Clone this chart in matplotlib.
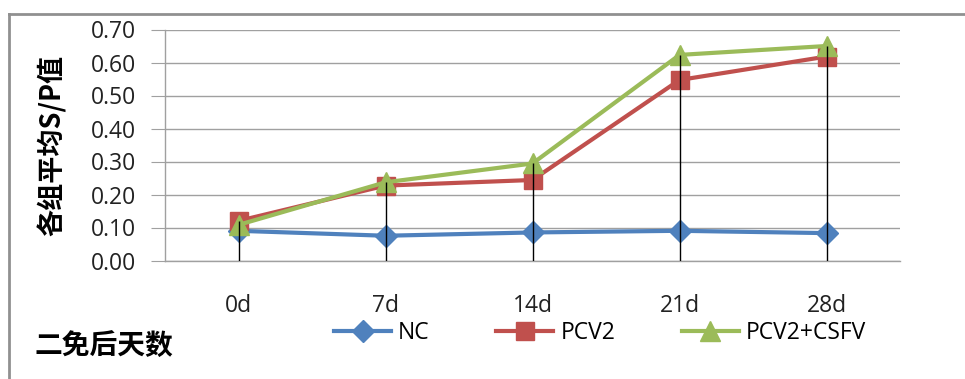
import matplotlib
matplotlib.use('Agg')
import matplotlib.pyplot as plt
from matplotlib.lines import Line2D

# data
days = ['0d', '7d', '14d', '21d', '28d']
nc = [0.09, 0.075, 0.085, 0.09, 0.083]
pcv2 = [0.12, 0.227, 0.244, 0.547, 0.618]
pcv2_csfv = [0.108, 0.237, 0.294, 0.623, 0.65]

plt.rcParams['font.family'] = ['Open Sans', 'DejaVu Sans']
cjk = ['Noto Sans CJK SC', 'DejaVu Sans']

W, H = 965, 379
fig = plt.figure(figsize=(W / 100, H / 100), dpi=100)
ax = fig.add_axes([165 / W, 1 - 260.5 / H, 735 / W, 231 / H])

x = list(range(len(days)))
ax.plot(x, nc, color='#4F81BD', lw=3, marker='D', ms=11, label='NC', zorder=3)
ax.plot(x, pcv2, color='#C0504D', lw=3, marker='s', ms=13, label='PCV2', zorder=4)
ax.plot(x, pcv2_csfv, color='#9BBB59', lw=3, marker='^', ms=14, label='PCV2+CSFV', zorder=5)

# drop lines from the highest point to the axis
tops = [max(a, b, c) for a, b, c in zip(nc, pcv2, pcv2_csfv)]
ax.vlines(x, 0, tops, color='black', lw=1, zorder=6)

ax.set_xlim(-0.5, 4.5)
ax.set_ylim(0, 0.7)
ax.set_yticks([i / 10 for i in range(8)])
ax.set_yticklabels([f'{i / 10:.2f}' for i in range(8)])
ax.set_xticks(x)
ax.set_xticklabels(days)
ax.tick_params(axis='y', length=10, color='#A0A0A0', pad=11, labelsize=16.5, labelcolor='#222222')
ax.tick_params(axis='x', length=0, pad=24, labelsize=16.5, labelcolor='#222222')
ax.grid(axis='y', color='#A0A0A0', lw=1)
ax.set_axisbelow(True)
for s in ['top', 'right']:
    ax.spines[s].set_visible(False)
for s in ['left', 'bottom']:
    ax.spines[s].set_color('#A0A0A0')
    ax.spines[s].set_linewidth(1)

fig.text(52 / W, 1 - 145 / H, '各组平均S/P值', rotation=90, ha='center', va='center',
         fontsize=19.5, fontweight='bold', family=cjk)
fig.text(35 / W, 1 - 347 / H, '二免后天数', ha='left', va='center',
         fontsize=20, fontweight='bold', family=cjk)

fig.legend(loc='center', bbox_to_anchor=(600 / W, 1 - 333 / H), ncol=3, frameon=False,
           fontsize=16.5, handlelength=2.5, handletextpad=0.3, columnspacing=2.9,
           borderaxespad=0, borderpad=0)

# outer chart border (right and bottom cut off)
fig.add_artist(Line2D([9 / W, 1], [1 - 14 / H, 1 - 14 / H], color='#909090', lw=2,
                      transform=fig.transFigure))
fig.add_artist(Line2D([9 / W, 9 / W], [0, 1 - 14 / H], color='#909090', lw=2,
                      transform=fig.transFigure))

fig.savefig('out.png', dpi=100)
